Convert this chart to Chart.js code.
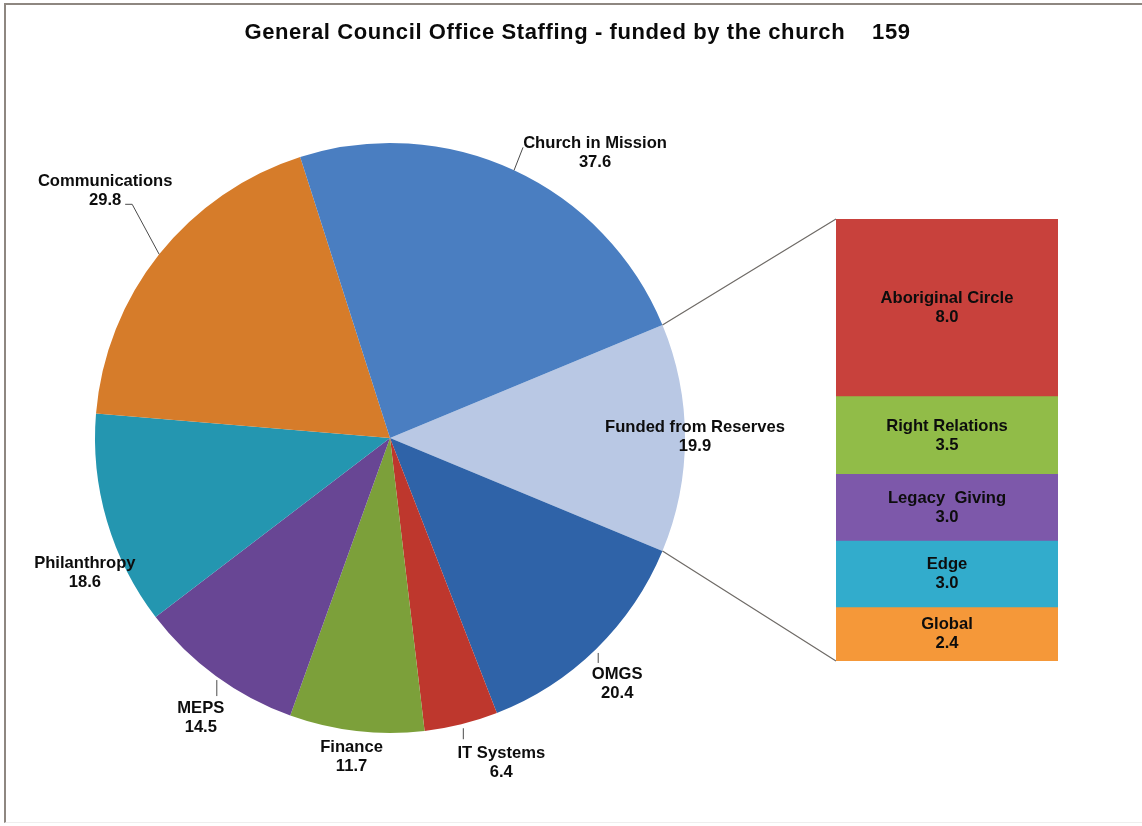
<!DOCTYPE html>
<html>
<head>
<meta charset="utf-8">
<title>General Council Office Staffing</title>
<script src="https://cdn.jsdelivr.net/npm/chart.js@4.4.1/dist/chart.umd.min.js"></script>
<style>
  html, body { margin: 0; padding: 0; background: #fff; }
  #wrap { position: relative; width: 1142px; height: 826px; overflow: hidden; background: #fff; }
  #frame { position: absolute; left: 4px; top: 3px; right: -4px; bottom: 3px;
           border-top: 2px solid #8e8781; border-left: 2px solid #8e8781; border-bottom: 1px solid #eeeeee; }
  #title { position: absolute; left: 0; top: 19px; width: 1142px; padding-left: 13px; box-sizing: border-box;
           text-align: center; white-space: pre; color: #0a0a0a; letter-spacing: 0.6px;
           font: bold 22px "Liberation Sans", Arial, sans-serif; }
  #pieChart { position: absolute; left: 0; top: 0; }
  #barBox { position: absolute; left: 836px; top: 219px; width: 222px; height: 442px; }
</style>
</head>
<body>
<div id="wrap">
  <div id="frame"></div>
  <canvas id="pieChart" width="1142" height="826"></canvas>
  <div id="barBox"><canvas id="barChart" width="222" height="442"></canvas></div>
  <div id="title"></div>
</div>

<script>
'use strict';

// Pie slices, clockwise from the reserves slice
const pieLabels = ['Funded from Reserves', 'OMGS', 'IT Systems', 'Finance', 'MEPS', 'Philanthropy', 'Communications', 'Church in Mission'];
const pieValues = [19.9, 20.4, 6.4, 11.7, 14.5, 18.6, 29.8, 37.6];
const pieColors = ['#b9c8e4', '#2f63a8', '#be372d', '#7ca03a', '#684694', '#2496b0', '#d67c2a', '#4a7ec1'];

// Breakdown of the reserves slice, top to bottom
const reserveLabels = ['Aboriginal Circle', 'Right Relations', 'Legacy  Giving', 'Edge', 'Global'];
const reserveValues = [8.0, 3.5, 3.0, 3.0, 2.4];
const reserveColors = ['#c8413c', '#91bc48', '#7d58aa', '#32accc', '#f59839'];

const titleText = 'General Council Office Staffing - funded by the church    159';

const labelFont = 'bold 16.6px "Liberation Sans", Arial, sans-serif';
const lineGap = 19;

document.getElementById('title').textContent = titleText;

// label block offsets from the middle of each slice's outer edge, plus leader lines
const pieLabelPlace = [
  { dx: 10, dy: -1 },
  { dx: 21, dy: 35, leader: [[2, 4], [2, 14]] },
  { dx: 40, dy: 39, leader: [[2, 4], [2, 15]] },
  { dx: -5, dy: 26 },
  { dx: -15, dy: 42, leader: [[1, 4], [1, 20]] },
  { dx: -22, dy: 52 },
  { dx: -54, dy: -63, leader: [[0, 0], [-27, -50], [-34, -50]] },
  { dx: 81, dy: -17, leader: [[0, 0], [9, -23]] }
];

function drawBlock(ctx, x, y, name, value) {
  ctx.save();
  ctx.font = labelFont;
  ctx.fillStyle = '#0d0d0d';
  ctx.textAlign = 'center';
  ctx.textBaseline = 'middle';
  ctx.fillText(name, x, y - lineGap / 2);
  ctx.fillText(value.toFixed(1), x, y + lineGap / 2);
  ctx.restore();
}

const barLabelPlugin = {
  id: 'barLabels',
  afterDatasetsDraw(chart) {
    const ctx = chart.ctx;
    chart.data.datasets.forEach((ds, i) => {
      const el = chart.getDatasetMeta(i).data[0];
      drawBlock(ctx, el.x, (el.y + el.base) / 2, ds.label, ds.data[0]);
    });
  }
};

// stacked bar: datasets go bottom-up, so feed them in reverse
const barDatasets = reserveLabels.map((name, i) => ({
  label: name,
  data: [reserveValues[i]],
  backgroundColor: reserveColors[i],
  borderWidth: 0,
  barPercentage: 1,
  categoryPercentage: 1
})).reverse();

const reserveTotal = reserveValues.reduce((a, b) => a + b, 0);

const barChart = new Chart(document.getElementById('barChart'), {
  type: 'bar',
  data: { labels: [''], datasets: barDatasets },
  options: {
    responsive: false,
    animation: false,
    layout: { padding: 0 },
    scales: {
      x: { display: false, stacked: true },
      y: { display: false, stacked: true, min: 0, max: reserveTotal }
    },
    plugins: { legend: { display: false }, tooltip: { enabled: false } }
  },
  plugins: [barLabelPlugin]
});

const pieLabelPlugin = {
  id: 'pieLabels',
  afterDatasetsDraw(chart) {
    const ctx = chart.ctx;
    const arcs = chart.getDatasetMeta(0).data;
    arcs.forEach((arc, i) => {
      const mid = (arc.startAngle + arc.endAngle) / 2;
      const ex = arc.x + arc.outerRadius * Math.cos(mid);
      const ey = arc.y + arc.outerRadius * Math.sin(mid);
      const place = pieLabelPlace[i];
      if (place.leader) {
        ctx.save();
        ctx.strokeStyle = '#4a4a4a';
        ctx.lineWidth = 1;
        ctx.beginPath();
        place.leader.forEach((p, k) => {
          if (k === 0) ctx.moveTo(ex + p[0], ey + p[1]);
          else ctx.lineTo(ex + p[0], ey + p[1]);
        });
        ctx.stroke();
        ctx.restore();
      }
      drawBlock(ctx, ex + place.dx, ey + place.dy, pieLabels[i], pieValues[i]);
    });
  }
};

// lines joining the reserves slice to the breakdown bar
const connectorPlugin = {
  id: 'connector',
  afterDraw(chart) {
    const arc = chart.getDatasetMeta(0).data[0];
    const box = document.getElementById('barBox');
    const topEl = barChart.getDatasetMeta(barDatasets.length - 1).data[0];
    const botEl = barChart.getDatasetMeta(0).data[0];
    const left = box.offsetLeft + topEl.x - topEl.width / 2;
    const ctx = chart.ctx;
    ctx.save();
    ctx.strokeStyle = '#6e6a66';
    ctx.lineWidth = 1.2;
    ctx.beginPath();
    ctx.moveTo(arc.x + arc.outerRadius * Math.cos(arc.startAngle), arc.y + arc.outerRadius * Math.sin(arc.startAngle));
    ctx.lineTo(left, box.offsetTop + topEl.y);
    ctx.moveTo(arc.x + arc.outerRadius * Math.cos(arc.endAngle), arc.y + arc.outerRadius * Math.sin(arc.endAngle));
    ctx.lineTo(left, box.offsetTop + botEl.base);
    ctx.stroke();
    ctx.restore();
  }
};

const pieTotal = pieValues.reduce((a, b) => a + b, 0);
// centre the reserves slice on the 3 o'clock direction
const pieRotation = 90 - (pieValues[0] / pieTotal) * 180;

new Chart(document.getElementById('pieChart'), {
  type: 'pie',
  data: {
    labels: pieLabels,
    datasets: [{ data: pieValues, backgroundColor: pieColors, borderWidth: 0 }]
  },
  options: {
    responsive: false,
    animation: false,
    rotation: pieRotation,
    layout: { padding: { left: 95, right: 457, top: 143, bottom: 93 } },
    plugins: { legend: { display: false }, tooltip: { enabled: false } }
  },
  plugins: [pieLabelPlugin, connectorPlugin]
});
</script>
</body>
</html>
